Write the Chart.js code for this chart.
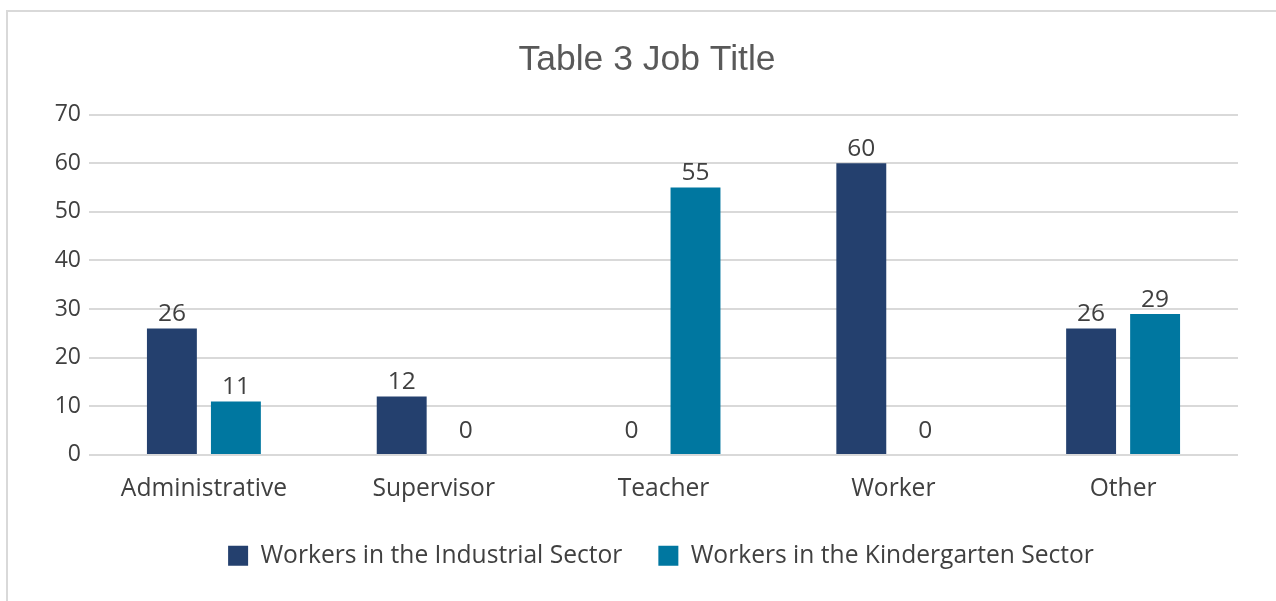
<!DOCTYPE html>
<html>
<head>
<meta charset="utf-8">
<script src="https://cdn.jsdelivr.net/npm/chart.js@4.4.1/dist/chart.umd.min.js"></script>
<style>
    html, body { margin: 0; padding: 0; background: #fff; overflow: hidden; }
    #frame {
        position: absolute; left: 6px; top: 10px;
        width: 1300px; height: 640px;
        border: 2px solid #d9d9d9;
    }
    #wrap { position: absolute; left: 0; top: 0; width: 1276px; height: 601px; }
</style>
</head>
<body>
<div id="frame"></div>
<div id="wrap"><canvas id="barchart"></canvas></div>
<script>
const jobTitles = ['Administrative', 'Supervisor', 'Teacher', 'Worker', 'Other'];
const industrialWorkers = [26, 12, 0, 60, 26];
const kindergartenWorkers = [11, 0, 55, 0, 29];
const yTicks = [0, 10, 20, 30, 40, 50, 60, 70];

const FONT = '"Open Sans", "DejaVu Sans", sans-serif';
const TEXT = '#404040';

// writes each bar's value just above it (zeros included, lifted a bit more)
const valueLabels = {
    id: 'valueLabels',
    afterDatasetsDraw(chart) {
        const c = chart.ctx;
        c.save();
        c.font = '24.5px ' + FONT;
        c.fillStyle = TEXT;
        c.textAlign = 'center';
        c.textBaseline = 'bottom';
        chart.data.datasets.forEach((ds, i) => {
            chart.getDatasetMeta(i).data.forEach((bar, j) => {
                const lift = ds.data[j] === 0 ? 12 : 2;
                c.fillText(String(ds.data[j]), bar.x, bar.y - lift);
            });
        });
        c.restore();
    }
};

// title and legend sit a little right of the canvas centre
const nudgeBoxes = {
    id: 'nudgeBoxes',
    afterLayout(chart) {
        if (chart.titleBlock) {
            chart.titleBlock.left += 8;
            chart.titleBlock.right += 8;
        }
        if (chart.legend) {
            chart.legend.left += 22;
            chart.legend.right += 22;
        }
    }
};

const ctx = document.getElementById('barchart');
new Chart(ctx, {
    type: 'bar',
    data: {
        labels: jobTitles,
        datasets: [{
            label: 'Workers in the Industrial Sector',
            data: industrialWorkers,
            backgroundColor: '#24406e',
            categoryPercentage: 0.557,
            barPercentage: 0.78
        },
            {
                label: 'Workers in the Kindergarten Sector',
                data: kindergartenWorkers,
                backgroundColor: '#0077a0',
                categoryPercentage: 0.557,
                barPercentage: 0.78
            }]
    },
    options: {
        responsive: true,
        maintainAspectRatio: false,
        animation: false,
        layout: {
            padding: {top: 22, left: 40, right: 38, bottom: 23}
        },
        plugins: {
            title: {
                display: true,
                text: 'Table 3 Job Title',
                color: '#595959',
                font: {family: '"Liberation Sans", Arial, sans-serif', size: 35.5, weight: 'normal'},
                padding: {top: 17, bottom: 33}
            },
            legend: {
                position: 'bottom',
                labels: {
                    color: TEXT,
                    font: {family: FONT, size: 24.6},
                    boxWidth: 20,
                    boxHeight: 20,
                    padding: 36
                }
            },
            tooltip: {enabled: false}
        },
        scales: {
            x: {
                // tickLength only spaces the labels here, the grid itself is hidden
                grid: {display: false, tickLength: 15},
                border: {display: false},
                ticks: {color: TEXT, font: {family: FONT, size: 24.6}, padding: 4}
            },
            y: {
                min: 0,
                max: 70,
                afterBuildTicks: (scale) => {
                    scale.ticks = yTicks.map((v) => ({value: v}));
                },
                afterFit: (scale) => {
                    scale.width = 49;
                },
                grid: {color: '#d9d9d9', lineWidth: 2, drawTicks: false},
                border: {display: false},
                ticks: {color: TEXT, font: {family: FONT, size: 23}, padding: 8}
            }
        }
    },
    plugins: [valueLabels, nudgeBoxes]
});
</script>
</body>
</html>
